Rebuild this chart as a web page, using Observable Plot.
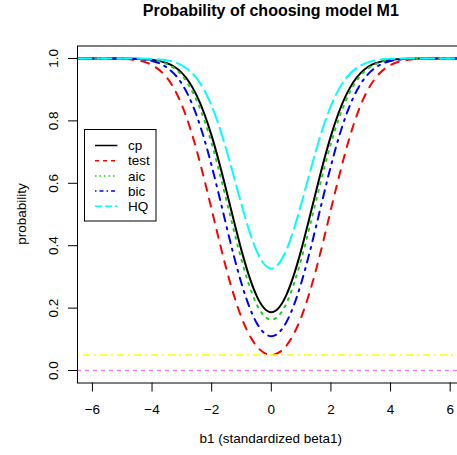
<!DOCTYPE html>
<html><head><meta charset="utf-8">
<script src="https://cdn.jsdelivr.net/npm/d3@7"></script>
<script src="https://cdn.jsdelivr.net/npm/@observablehq/plot@0.6"></script>
<style>body{margin:0;background:#fff;overflow:hidden} svg{display:block}</style>
</head><body><div id="chart"></div>
<script>
// x grid (b1, standardized beta1)
const b1 = [-6.5,-6,-5.5,-5,-4.5,-4,-3.5,-3,-2.5,-2,-1.5,-1,-0.5,0,0.5,1,1.5,2,2.5,3,3.5,4,4.5,5,5.5,6,6.5];
// probability of choosing model M1
const cp   = [1,1,1,1.0,0.999,0.996,0.985,0.954,0.881,0.752,0.574,0.385,0.241,0.187,0.241,0.385,0.574,0.752,0.881,0.954,0.985,0.996,0.999,1.0,1,1,1];
const test = [1,1,1,0.999,0.9945,0.979,0.938,0.851,0.705,0.516,0.323,0.170,0.079,0.050,0.079,0.170,0.323,0.516,0.705,0.851,0.938,0.979,0.9945,0.999,1,1,1];
const aic  = [1,1,1,1.0,0.999,0.995,0.982,0.946,0.865,0.728,0.544,0.355,0.214,0.163,0.214,0.355,0.544,0.728,0.865,0.946,0.982,0.995,0.999,1.0,1,1,1];
const bic  = [1,1,1,1.0,0.998,0.992,0.971,0.919,0.816,0.656,0.461,0.279,0.154,0.110,0.154,0.279,0.461,0.656,0.816,0.919,0.971,0.992,0.998,1.0,1,1,1];
const HQ   = [1,1,1,1,1.0,0.999,0.994,0.978,0.936,0.848,0.705,0.532,0.385,0.327,0.385,0.532,0.705,0.848,0.936,0.978,0.994,0.999,1.0,1,1,1,1];

const seriesNames  = ["cp","test","aic","bic","HQ"];
const seriesValues = [cp, test, aic, bic, HQ];
const seriesColors = ["black","red","#22cc22","blue","cyan"];
const seriesDash   = [null,"8,8","2,6","2,6,8,6","14,6"];
const legendDash   = [null,"4,4","1.5,3","1.5,3,4,3","7,3"];

const refLevels = [0.05, 0];
const refColors = ["yellow","violet"];
const refDash   = ["2,4,7,4","4,4"];

const xTicks = [-6,-4,-2,0,2,4,6];
const yTicks = [0,0.2,0.4,0.6,0.8,1.0];

const titleText = "Probability of choosing model M1";
const xLabel = "b1 (standardized beta1)";
const yLabel = "probability";

const FONT = "'Liberation Sans', Arial, Helvetica, sans-serif";

const lineMarks = seriesNames.map((name, i) => {
  const rows = b1.map((b, j) => ({b, p: seriesValues[i][j], s: name}));
  return Plot.line(rows, {x: "b", y: "p", stroke: seriesColors[i], strokeWidth: 2,
    strokeDasharray: seriesDash[i] ?? undefined, curve: "natural"});
});
const refMarks = refLevels.map((v, i) =>
  Plot.ruleY([v], {stroke: refColors[i], strokeWidth: 1.5, strokeDasharray: refDash[i]}));

const plot = Plot.plot({
  width: 457, height: 455,
  marginLeft: 77, marginRight: -7.6, marginTop: 45.5, marginBottom: 72.5,
  x: {domain: [-6.5, 6.5]},
  y: {domain: [-0.04, 1.04]},
  style: {fontFamily: FONT, fontSize: "13.5px", background: "white", color: "black"},
  marks: [
    ...lineMarks,
    ...refMarks,
    Plot.frame({stroke: "black"}),
    Plot.axisX({ticks: xTicks, tickSize: 9, tickPadding: 12, label: null,
      tickFormat: d => d < 0 ? "\u2212" + (-d) : String(d)}),
    Plot.axisY({ticks: yTicks, tickSize: 9, tickFormat: () => "", label: null}),
    Plot.text(yTicks, {y: d => d, frameAnchor: "left", dx: -24, rotate: -90,
      text: d => d.toFixed(1), textAnchor: "middle", lineAnchor: "middle", fontSize: 13.5})
  ]
});

document.getElementById("chart").appendChild(plot);

const svg = d3.select(plot);
const xs = plot.scale("x");
const cx = xs.apply(0);

svg.append("text").attr("x", cx).attr("y", 15.5).attr("text-anchor", "middle")
  .attr("font-family", FONT).attr("font-weight", "bold").attr("font-size", 16).attr("fill", "black")
  .text(titleText);
svg.append("text").attr("x", cx).attr("y", 442.5).attr("text-anchor", "middle")
  .attr("font-family", FONT).attr("font-size", 13.5).attr("fill", "black")
  .text(xLabel);
svg.append("text").attr("transform", `translate(25.5,214) rotate(-90)`).attr("text-anchor", "middle")
  .attr("font-family", FONT).attr("font-size", 13.5).attr("fill", "black")
  .text(yLabel);

// legend
const lg = svg.append("g");
lg.append("rect").attr("x", 84.5).attr("y", 129.5).attr("width", 71.5).attr("height", 91.5)
  .attr("fill", "white").attr("stroke", "black").attr("stroke-width", 1);
seriesNames.forEach((name, i) => {
  const y = 145.5 + i * 15.2;
  lg.append("line").attr("x1", 95).attr("x2", 117.5).attr("y1", y).attr("y2", y)
    .attr("stroke", seriesColors[i]).attr("stroke-width", 1.5)
    .attr("stroke-dasharray", legendDash[i]);
  lg.append("text").attr("x", 128).attr("y", y).attr("dy", "0.35em").attr("text-anchor", "start")
    .attr("font-family", FONT).attr("font-size", 13.5).attr("fill", "black").text(name);
});
</script></body></html>
